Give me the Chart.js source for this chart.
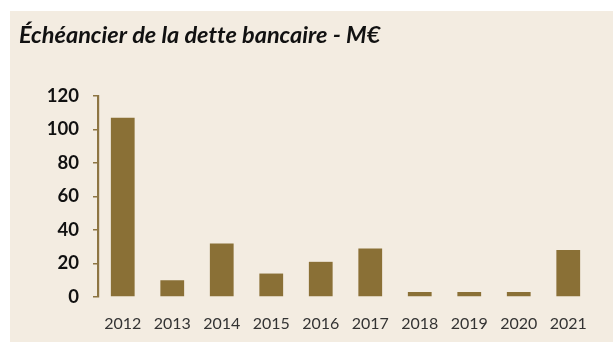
<!DOCTYPE html>
<html lang="fr">
<head>
<meta charset="utf-8">
<title>Échéancier de la dette bancaire</title>
<script src="https://cdn.jsdelivr.net/npm/chart.js@4/dist/chart.umd.min.js"></script>
<style>
  html, body { margin: 0; padding: 0; background: #ffffff; }
  #panel {
    position: absolute; left: 10px; top: 11px;
    width: 603px; height: 331px;
    background: #f3ece1;
  }
  canvas { display: block; }
</style>
</head>
<body>
<div id="panel"><canvas id="chart" width="603" height="331"></canvas></div>
<script>
// Maturity schedule of bank debt, in millions of euros
const years = ['2012', '2013', '2014', '2015', '2016', '2017', '2018', '2019', '2020', '2021'];
const maturities = [107, 10, 32, 14, 21, 29, 3, 3, 3, 28];
const yTicks = [0, 20, 40, 60, 80, 100, 120];

const brown = '#8a7036';
const axisBrown = '#8d7542';
const CANVAS_H = 331;
const PLOT_BOTTOM = 286;
const PAD_BOTTOM = 4;

// zero-width non-joiner keeps "tt" from turning into a ligature
const chartTitle = 'Échéancier de la det\u200Cte bancaire - M€';

new Chart(document.getElementById('chart'), {
  type: 'bar',
  data: {
    labels: years,
    datasets: [{
      data: maturities,
      backgroundColor: brown,
      borderWidth: 0,
      barPercentage: 0.48,
      categoryPercentage: 1.0
    }]
  },
  options: {
    responsive: false,
    animation: false,
    events: [],
    layout: { padding: { left: 9, right: 20, top: 0, bottom: PAD_BOTTOM } },
    plugins: {
      legend: { display: false },
      tooltip: { enabled: false },
      title: {
        display: true,
        text: chartTitle,
        align: 'start',
        color: '#111111',
        font: { family: 'Lato', size: 23.5, weight: 'bold', style: 'italic', lineHeight: 1.2 },
        padding: { top: 10, bottom: 46.8 }
      }
    },
    scales: {
      x: {
        afterFit: (scale) => { scale.height = CANVAS_H - PLOT_BOTTOM - PAD_BOTTOM; },
        grid: { display: false, drawTicks: false },
        border: { display: false },
        ticks: {
          color: '#333333',
          font: { family: 'Lato', size: 16 },
          padding: 17,
          maxRotation: 0,
          autoSkip: false
        }
      },
      y: {
        min: 0,
        max: 120,
        afterBuildTicks: (scale) => { scale.ticks = yTicks.map(v => ({ value: v })); },
        afterFit: (scale) => { scale.width = 79; },
        grid: {
          drawOnChartArea: false,
          drawTicks: true,
          tickLength: 5,
          color: axisBrown,
          lineWidth: 1.5
        },
        border: { display: true, color: axisBrown, width: 2.2 },
        ticks: {
          color: '#111111',
          font: { family: 'Lato', size: 18.5, weight: 'bold' },
          padding: 14
        }
      }
    }
  }
});
</script>
</body>
</html>
